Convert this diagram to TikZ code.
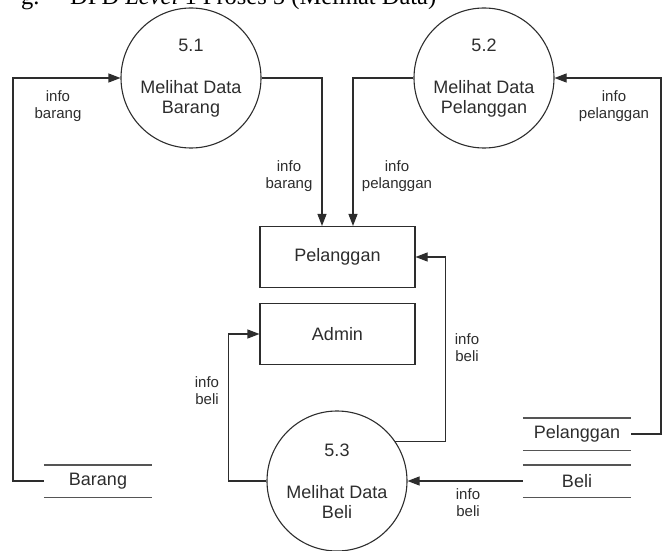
\documentclass[tikz,border=0pt]{standalone}
\usepackage{fontspec}
\setmainfont{Liberation Sans}
\newfontfamily\titlefont{Liberation Serif}
\usetikzlibrary{arrows.meta,calc}
\definecolor{ink}{RGB}{45,45,45}
\definecolor{storegray}{RGB}{85,85,85}
\tikzset{
    process/.style={circle,draw=ink,line width=1.1pt,minimum size=140pt,inner sep=0pt,align=center,text=ink,font=\fontsize{18}{20}\selectfont},
    entity/.style={rectangle,draw=ink,line width=1.1pt,minimum width=155pt,minimum height=61pt,text=ink,font=\fontsize{18}{20}\selectfont},
    store/.style={minimum width=108pt,minimum height=32pt,inner sep=0pt,text=ink,font=\fontsize{18}{20}\selectfont},
    storeline/.style={draw=storegray,line width=1.4pt},
    flow/.style={draw=ink,line width=1.1pt,-{Triangle[length=12pt,width=9pt]}},
    flowlabel/.style={align=center,text=ink,font=\fontsize{15}{17}\selectfont,inner sep=0pt},
    titletext/.style={anchor=base west,inner sep=0pt,font=\titlefont\fontsize{24.5}{28}\selectfont}
}

\begin{document}
\begin{tikzpicture}[x=1pt,y=-1pt]
    \clip (0,0) rectangle (670,551);
    % Title (cut off at the top)
    \node[titletext] (ttlnum) at (21,5) {g.};
    \node[titletext] (ttl) at (70,5) {DFD \textit{Level} 1 Proses 5 (Melihat Data)};
    % Processes
    \node[process] (p51) at (191,78) {5.1\\[22pt]Melihat Data\\Barang};
    \node[process] (p52) at (484,78) {5.2\\[22pt]Melihat Data\\Pelanggan};
    \node[process] (p53) at (337,481) {5.3\\[22pt]Melihat Data\\Beli};
    % Entities
    \node[entity] (ePel) at (337.5,257) {Pelanggan};
    \node[entity] (eAdm) at (337.5,334) {Admin};
    % Data stores
    \node[store] (sBarang) at (98,481) {Barang};
    \node[store] (sPel) at (577,434) {Pelanggan};
    \node[store] (sBeli) at (577,481) {Beli};
    \foreach \s in {sBarang,sPel,sBeli}
        \draw[storeline] (\s.north west) -- (\s.north east) (\s.south west) -- (\s.south east);
    % Flows
    \coordinate (cL) at (13,78);
    \coordinate (cR) at (661,78);
    \draw[flow] (sBarang.west) -| (cL) -- (p51.west);
    \draw[flow] (sPel.east) -| (cR) -- (p52.east);
    \draw[flow] (p51.east) -| ([xshift=-15.5pt]ePel.north);
    \draw[flow] (p52.west) -| ([xshift=15.5pt]ePel.north);
    \draw[flow] (sBeli.west) -- (p53.east);
    \draw[flow] (p53.34) -| ([xshift=30pt]ePel.east) -- (ePel.east);
    \draw[flow] (p53.west) -| ([xshift=-31pt]eAdm.west) -- (eAdm.west);
    % Flow labels
    \node[flowlabel] (lb1) at (58,106) {info\\barang};
    \node[flowlabel] (lb2) at (289,176) {info\\barang};
    \node[flowlabel] (lp1) at (397,176) {info\\pelanggan};
    \node[flowlabel] (lp2) at (614,106) {info\\pelanggan};
    \node[flowlabel] (lk1) at (467,348) {info\\beli};
    \node[flowlabel] (lk2) at (207,391) {info\\beli};
    \node[flowlabel] (lk3) at (468,503) {info\\beli};
\end{tikzpicture}
\end{document}
